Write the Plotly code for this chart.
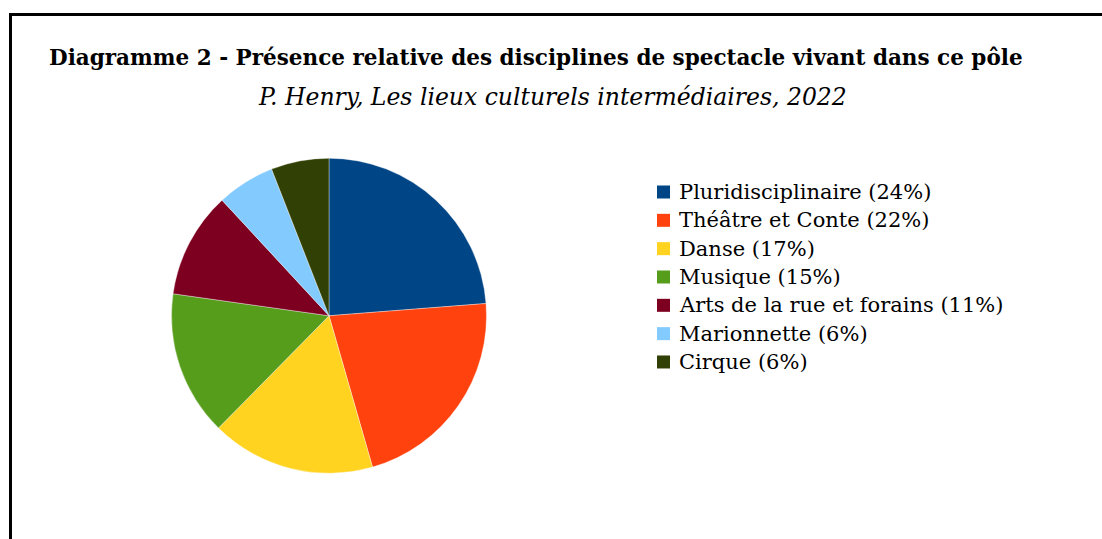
import plotly.graph_objects as go

W, H = 1102, 539

# Disciplines and their relative share (%)
disciplines = [
    "Pluridisciplinaire",
    "Théâtre et Conte",
    "Danse",
    "Musique",
    "Arts de la rue et forains",
    "Marionnette",
    "Cirque",
]
shares = [24, 22, 17, 15, 11, 6, 6]
colors = ["#004586", "#ff420e", "#ffd320", "#579d1c", "#7e0021", "#83caff", "#314004"]

labels = [f"{d} ({s}%)" for d, s in zip(disciplines, shares)]

SERIF = "DejaVu Serif"


def px_x(x):
    return x / W


def px_y(y):
    return 1 - y / H


fig = go.Figure(
    go.Pie(
        labels=labels,
        values=shares,
        sort=False,
        direction="clockwise",
        rotation=0,
        textinfo="none",
        hoverinfo="label",
        showlegend=False,
        marker=dict(colors=colors, line=dict(color="rgba(255,255,255,0.6)", width=0.6)),
        domain=dict(x=[px_x(171.5), px_x(486.5)], y=[px_y(473.5), px_y(158)]),
    )
)

# frame lines (top and left)
fig.add_shape(type="line", xref="paper", yref="paper",
              x0=px_x(9), x1=1.0, y0=px_y(14.5), y1=px_y(14.5),
              line=dict(color="black", width=3))
fig.add_shape(type="line", xref="paper", yref="paper",
              x0=px_x(10.5), x1=px_x(10.5), y0=px_y(13), y1=0,
              line=dict(color="black", width=3))

fig.add_annotation(
    text="<b>Diagramme 2 - Présence relative des disciplines de spectacle vivant dans ce pôle</b>",
    xref="paper", yref="paper", x=px_x(536), y=px_y(58),
    xanchor="center", yanchor="middle", showarrow=False,
    font=dict(family=SERIF, size=21.5, color="black"),
)
fig.add_annotation(
    text="<i>P. Henry, Les lieux culturels intermédiaires, 2022</i>",
    xref="paper", yref="paper", x=px_x(552), y=px_y(97),
    xanchor="center", yanchor="middle", showarrow=False,
    font=dict(family=SERIF, size=23.5, color="black"),
)

# legend: colour key squares with their labels
row0, row_step = 192.0, 28.33
for i, (lab, col) in enumerate(zip(labels, colors)):
    yc = row0 + i * row_step
    fig.add_shape(type="rect", xref="paper", yref="paper",
                  x0=px_x(657), x1=px_x(670), y0=px_y(yc + 6.5), y1=px_y(yc - 6.5),
                  fillcolor=col, line=dict(width=0))
    fig.add_annotation(
        text=lab, xref="paper", yref="paper", x=px_x(677), y=px_y(yc),
        xanchor="left", yanchor="middle", showarrow=False,
        font=dict(family=SERIF, size=21, color="black"),
    )

fig.update_layout(
    width=W, height=H,
    margin=dict(l=0, r=0, t=0, b=0),
    paper_bgcolor="white",
    plot_bgcolor="white",
    showlegend=False,
)

fig.write_html("out.html")
